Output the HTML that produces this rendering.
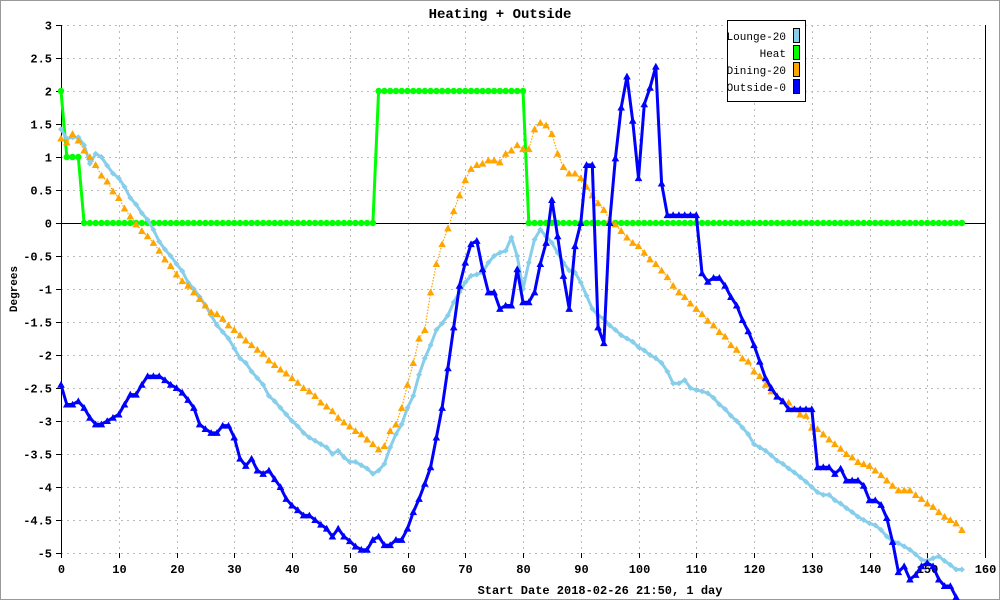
<!DOCTYPE html>
<html><head><meta charset="utf-8"><title>Heating + Outside</title>
<style>
html,body{margin:0;padding:0;background:#fff;}
svg{display:block;font-family:"Liberation Mono",monospace;}
</style></head>
<body>
<svg id="chart" width="1000" height="600" viewBox="0 0 1000 600" xmlns="http://www.w3.org/2000/svg">
<rect x="0.5" y="0.5" width="999" height="599" fill="#fff" stroke="#999"/>
<text x="500" y="18" text-anchor="middle" font-size="14" font-weight="bold">Heating + Outside</text>
<text x="17" y="289" text-anchor="middle" font-size="11" font-weight="bold" transform="rotate(-90 17 289)">Degrees</text>
<text x="600" y="594" text-anchor="middle" font-size="12" font-weight="bold">Start Date 2018-02-26 21:50, 1 day</text>
<g id="grid"></g>
<g id="axes"></g>
<g id="series"></g>
<g>
<rect x="727.5" y="20.5" width="78" height="81" fill="#fff" stroke="#000"/>
<g><text x="786" y="40" text-anchor="end" font-size="11">Lounge-20</text><rect x="793.5" y="28.5" width="6" height="14" fill="#87ceeb" stroke="#000"/></g>
<g><text x="786" y="57" text-anchor="end" font-size="11">Heat</text><rect x="793.5" y="45.5" width="6" height="14" fill="#00ff00" stroke="#000"/></g>
<g><text x="786" y="74" text-anchor="end" font-size="11">Dining-20</text><rect x="793.5" y="62.5" width="6" height="14" fill="#ffa500" stroke="#000"/></g>
<g><text x="786" y="91" text-anchor="end" font-size="11">Outside-0</text><rect x="793.5" y="79.5" width="6" height="14" fill="#0000ff" stroke="#000"/></g>
</g>
</svg>
<script>
const xTicks=[0,10,20,30,40,50,60,70,80,90,100,110,120,130,140,150,160];
const yTicks=[3,2.5,2,1.5,1,0.5,0,-0.5,-1,-1.5,-2,-2.5,-3,-3.5,-4,-4.5,-5];
const yTickLabels=["3","2.5","2","1.5","1","0.5","0","-0.5","-1","-1.5","-2","-2.5","-3","-3.5","-4","-4.5","-5"];
const lounge=[1.42,1.28,1.3,1.3,1.18,0.9,1.05,1.0,0.87,0.75,0.68,0.55,0.38,0.28,0.15,0.05,-0.1,-0.28,-0.4,-0.5,
-0.62,-0.73,-0.9,-1.0,-1.12,-1.25,-1.4,-1.55,-1.65,-1.75,-1.9,-2.05,-2.12,-2.25,-2.35,-2.45,-2.62,-2.7,-2.8,-2.9,
-3.0,-3.08,-3.18,-3.25,-3.3,-3.35,-3.4,-3.5,-3.45,-3.55,-3.62,-3.62,-3.67,-3.72,-3.8,-3.75,-3.65,-3.4,-3.2,-3.05,
-2.8,-2.62,-2.3,-2.05,-1.85,-1.62,-1.52,-1.4,-1.2,-1.05,-0.9,-0.8,-0.78,-0.75,-0.6,-0.5,-0.45,-0.42,-0.22,-0.5,
-1.0,-0.6,-0.25,-0.1,-0.2,-0.3,-0.45,-0.6,-0.72,-0.75,-0.9,-1.1,-1.3,-1.4,-1.45,-1.55,-1.62,-1.7,-1.75,-1.8,
-1.88,-1.93,-2.0,-2.05,-2.12,-2.25,-2.43,-2.43,-2.38,-2.5,-2.53,-2.55,-2.58,-2.65,-2.75,-2.82,-2.92,-3.0,-3.1,-3.2,
-3.35,-3.4,-3.45,-3.52,-3.6,-3.65,-3.72,-3.78,-3.85,-3.92,-4.0,-4.08,-4.12,-4.12,-4.2,-4.25,-4.32,-4.38,-4.45,-4.5,
-4.55,-4.58,-4.65,-4.75,-4.82,-4.85,-4.9,-4.95,-5.02,-5.1,-5.12,-5.08,-5.05,-5.12,-5.18,-5.25,-5.25];
const heat=[2,1,1,1,0,0,0,0,0,0,0,0,0,0,0,0,0,0,0,0,
0,0,0,0,0,0,0,0,0,0,0,0,0,0,0,0,0,0,0,0,
0,0,0,0,0,0,0,0,0,0,0,0,0,0,0,2,2,2,2,2,
2,2,2,2,2,2,2,2,2,2,2,2,2,2,2,2,2,2,2,2,
2,0,0,0,0,0,0,0,0,0,0,0,0,0,0,0,0,0,0,0,
0,0,0,0,0,0,0,0,0,0,0,0,0,0,0,0,0,0,0,0,
0,0,0,0,0,0,0,0,0,0,0,0,0,0,0,0,0,0,0,0,
0,0,0,0,0,0,0,0,0,0,0,0,0,0,0,0,0];
const dining=[1.28,1.22,1.35,1.25,1.1,1.0,0.88,0.72,0.63,0.48,0.38,0.22,0.1,-0.02,-0.12,-0.2,-0.3,-0.42,-0.55,-0.65,
-0.78,-0.88,-0.95,-1.05,-1.15,-1.25,-1.35,-1.38,-1.45,-1.55,-1.62,-1.7,-1.78,-1.85,-1.92,-1.98,-2.08,-2.15,-2.22,-2.28,
-2.35,-2.42,-2.5,-2.55,-2.62,-2.72,-2.78,-2.85,-2.95,-3.02,-3.08,-3.15,-3.2,-3.28,-3.35,-3.43,-3.38,-3.15,-3.05,-2.8,
-2.45,-2.12,-1.75,-1.62,-1.05,-0.62,-0.32,-0.08,0.18,0.42,0.65,0.82,0.88,0.9,0.95,0.95,0.92,1.05,1.1,1.18,
1.12,1.12,1.42,1.52,1.48,1.35,1.05,0.85,0.75,0.75,0.68,0.55,0.42,0.3,0.2,0.05,-0.02,-0.12,-0.22,-0.3,
-0.35,-0.45,-0.55,-0.62,-0.72,-0.82,-0.95,-1.05,-1.12,-1.22,-1.3,-1.38,-1.48,-1.55,-1.65,-1.72,-1.85,-1.92,-2.05,-2.1,
-2.25,-2.32,-2.45,-2.55,-2.62,-2.7,-2.72,-2.82,-2.9,-2.92,-3.1,-3.12,-3.2,-3.28,-3.35,-3.42,-3.5,-3.55,-3.62,-3.65,
-3.68,-3.75,-3.82,-3.9,-3.98,-4.05,-4.05,-4.05,-4.12,-4.18,-4.25,-4.3,-4.38,-4.45,-4.5,-4.55,-4.65];
const outside=[-2.45,-2.75,-2.75,-2.7,-2.8,-2.95,-3.05,-3.05,-3.0,-2.95,-2.9,-2.75,-2.6,-2.6,-2.45,-2.32,-2.32,-2.32,-2.38,-2.45,
-2.5,-2.57,-2.68,-2.8,-3.05,-3.12,-3.18,-3.18,-3.07,-3.07,-3.25,-3.57,-3.68,-3.57,-3.75,-3.8,-3.75,-3.88,-4.0,-4.18,
-4.28,-4.35,-4.43,-4.43,-4.5,-4.57,-4.63,-4.75,-4.63,-4.75,-4.82,-4.9,-4.95,-4.95,-4.8,-4.75,-4.88,-4.88,-4.8,-4.8,
-4.63,-4.38,-4.18,-3.95,-3.7,-3.25,-2.8,-2.2,-1.58,-0.95,-0.6,-0.32,-0.27,-0.7,-1.05,-1.05,-1.3,-1.25,-1.25,-0.7,
-1.2,-1.2,-1.05,-0.62,-0.3,0.35,-0.2,-0.8,-1.3,-0.35,0.0,0.88,0.88,-1.58,-1.82,0.0,0.98,1.75,2.22,1.55,
0.68,1.8,2.05,2.37,0.6,0.12,0.12,0.12,0.12,0.12,0.12,-0.76,-0.89,-0.83,-0.83,-0.95,-1.12,-1.25,-1.47,-1.64,
-1.85,-2.1,-2.35,-2.5,-2.63,-2.7,-2.82,-2.82,-2.82,-2.82,-2.82,-3.7,-3.7,-3.7,-3.8,-3.72,-3.9,-3.9,-3.9,-3.98,
-4.2,-4.2,-4.27,-4.47,-4.83,-5.29,-5.2,-5.4,-5.33,-5.2,-5.15,-5.2,-5.4,-5.5,-5.5,-5.67,-5.8];

const NS="http://www.w3.org/2000/svg";
const X0=61,X1=985,Y0=25,Y1=553,XMIN=0,XMAX=160,YMIN=-5,YMAX=3;
function xs(v){return X0+(v-XMIN)/(XMAX-XMIN)*(X1-X0);}
function ys(v){return Y1-(v-YMIN)/(YMAX-YMIN)*(Y1-Y0);}
function mk(tag,attrs,parent){const e=document.createElementNS(NS,tag);for(const k in attrs)e.setAttribute(k,attrs[k]);parent.appendChild(e);return e;}
const grid=document.getElementById('grid'),axes=document.getElementById('axes'),series=document.getElementById('series');
xTicks.forEach(t=>{
  const px=Math.round(xs(t))+0.5;
  if(t>0&&t<160){const g=mk('line',{x1:px,y1:Y0,x2:px,y2:Y1,stroke:'#bbb','stroke-dasharray':'2,4'},grid);
  
  }
  const tk=mk('line',{x1:px,y1:Y1,x2:px,y2:Y1+5,stroke:'#000'},axes);
  
  
  const tx=mk('text',{x:px,y:Y1+20,'text-anchor':'middle','font-size':'12','font-weight':'bold'},axes);
  tx.textContent=String(t);
  
  
});
yTicks.forEach((t,i)=>{
  const py=Math.round(ys(t))+0.5;
  if(t!==0){const g=mk('line',{x1:X0,y1:py,x2:X1,y2:py,stroke:'#bbb','stroke-dasharray':'2,4'},grid);
  
  }
  const tk=mk('line',{x1:X0-5,y1:py,x2:X0,y2:py,stroke:'#000'},axes);
  
  
  const tx=mk('text',{x:X0-9,y:py+4,'text-anchor':'end','font-size':'12','font-weight':'bold'},axes);
  tx.textContent=yTickLabels[i];
  
  
});
const zl=mk('line',{x1:X0,y1:Math.round(ys(0))+0.5,x2:X1,y2:Math.round(ys(0))+0.5,stroke:'#000'},axes);


const la=mk('line',{x1:X0+0.5,y1:Y0,x2:X0+0.5,y2:Y1+5,stroke:'#000'},axes);


const ra=mk('line',{x1:X1+0.5,y1:Y0,x2:X1+0.5,y2:Y1+5,stroke:'#000'},axes);



function drawSeries(vals,name,color,width,dash,marker,ms){
  const g=mk('g',{},series);
  
  
  const pts=vals.map((v,i)=>xs(i).toFixed(1)+','+ys(v).toFixed(1)).join(' ');
  const pl=mk('polyline',{points:pts,fill:'none',stroke:color,'stroke-width':width,'stroke-dasharray':dash||'none','stroke-linejoin':'round'},g);
  
  
  vals.forEach((v,i)=>{
    const cx=xs(i),cy=ys(v);let m;
    if(marker==='tri'){m=mk('polygon',{points:`${cx},${cy-ms} ${cx-ms},${cy+ms*0.8} ${cx+ms},${cy+ms*0.8}`,fill:color},g);}
    else if(marker==='circ'){m=mk('circle',{cx:cx,cy:cy,r:ms,fill:color},g);}
    else {m=mk('polygon',{points:`${cx},${cy-ms} ${cx+ms},${cy} ${cx},${cy+ms} ${cx-ms},${cy}`,fill:color},g);}
    
    
  });
}
drawSeries(heat,'heat','#00ff00',3,null,'circ',3.2);
drawSeries(lounge,'lounge','#87ceeb',3,null,'dia',3);
drawSeries(dining,'dining','#ffa500',1.2,'1.5,1.5','tri',3.8);
drawSeries(outside,'outside','#0000ff',3,null,'tri',3.8);
</script>
</body></html>
